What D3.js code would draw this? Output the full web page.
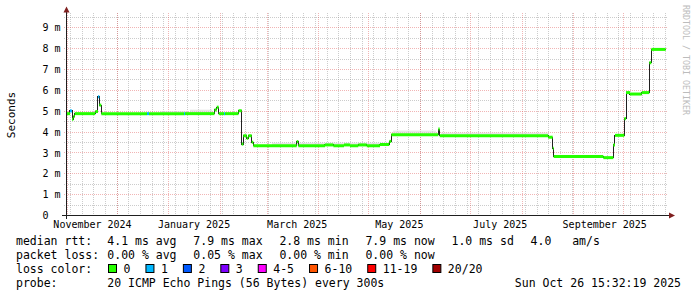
<!DOCTYPE html>
<html>
<head>
<script src="https://d3js.org/d3.v7.min.js"></script>
<style>
  body { margin: 0; background: #fff; }
  svg { display: block; background: #fff; }
  text { font-family: "DejaVu Sans Mono", monospace; fill: #000; white-space: pre; }
  .watermark { fill: #bcbcbc; }
</style>
</head>
<body>
<svg width="697" height="297"></svg>
<script>
// graph window: last 360 days
const graphStart = "2024-10-31T15:32:19Z";
const graphEnd = "2025-10-26T15:32:19Z";
const yMaxMs = 9.59;

// median rtt steps (ms) and lost pings (of 20); last entry only closes the final step
const stepTimes = [
  "2024-10-31T15:32", "2024-11-03T01:00", "2024-11-04T06:00", "2024-11-05T01:00", "2024-11-05T21:00",
  "2024-11-18T05:00", "2024-11-19T20:00", "2024-11-20T15:00", "2024-11-21T20:00", "2024-12-19T06:00",
  "2024-12-20T11:00", "2025-01-10T11:00", "2025-01-11T01:00", "2025-01-28T18:00", "2025-01-30T02:00",
  "2025-01-31T06:00", "2025-02-03T11:00", "2025-02-04T01:00", "2025-02-12T04:00", "2025-02-14T02:00",
  "2025-02-15T01:00", "2025-02-17T02:00", "2025-02-18T01:00", "2025-02-20T02:00", "2025-02-21T01:00",
  "2025-03-19T02:00", "2025-03-20T01:00", "2025-04-05T01:00", "2025-04-10T01:00", "2025-04-16T11:00",
  "2025-04-20T01:00", "2025-04-25T01:00", "2025-04-30T02:00", "2025-05-08T01:00", "2025-05-13T15:00",
  "2025-05-14T20:00", "2025-06-12T01:00", "2025-06-12T21:00", "2025-08-16T23:00", "2025-08-19T16:00",
  "2025-08-20T06:00", "2025-09-19T01:00", "2025-09-25T01:00", "2025-09-26T01:00", "2025-10-01T15:00",
  "2025-10-02T16:00", "2025-10-05T01:00", "2025-10-12T02:00", "2025-10-16T15:00", "2025-10-17T20:00",
  "2025-10-26T11:00"
];
const medianMs = [
  4.86, 4.99, 4.59, 4.72, 4.86,
  4.96, 5.67, 5.27, 4.86, 4.86,
  4.86, 4.86, 4.86, 5.04, 5.17,
  4.86, 4.86, 4.86, 5.00, 3.40,
  3.80, 3.68, 3.80, 3.49, 3.32,
  3.52, 3.32, 3.36, 3.32, 3.36,
  3.32, 3.36, 3.32, 3.38, 3.53,
  3.85, 4.12, 3.80, 3.73, 3.20,
  2.80, 2.75, 3.36, 3.82, 4.62,
  5.87, 5.80, 5.87, 7.30, 7.94,
  7.94
];
const lossCount = [
  0, 1, 0, 0, 0,
  0, 1, 0, 0, 1,
  0, 1, 0, 0, 0,
  0, 1, 0, 0, 0,
  0, 0, 0, 0, 0,
  0, 0, 0, 0, 0,
  0, 0, 0, 0, 0,
  0, 0, 0, 0, 0,
  0, 0, 0, 0, 0,
  0, 0, 0, 0, 0,
  0
];

// smoke (spread of the pings) above the median
const smokeFrom = ["2024-12-27T01:00", "2025-01-14T01:00", "2025-03-04T06:00", "2025-05-15T20:00", "2025-06-13T16:00"];
const smokeTo = ["2025-01-13T00:00", "2025-01-27T06:00", "2025-05-12T20:00", "2025-06-10T16:00", "2025-08-16T20:00"];
const smokeTopMs = [4.98, 5.05, 3.46, 4.05, 3.95];

// axis labels
const yTicks = [0, 1, 2, 3, 4, 5, 6, 7, 8, 9];
const monthLabels = ["November 2024", "January 2025", "March 2025", "May 2025", "July 2025", "September 2025"];
const monthLabelAt = ["2024-11-16T06:00", "2025-01-16T04:00", "2025-03-19T02:00", "2025-05-19T08:00", "2025-07-18T21:00", "2025-09-19T14:00"];

// legend
const statNames = ["avg", "max", "min", "now"];
const rttStats = [4.1, 7.9, 2.8, 7.9];
const rttSd = 1.0;
const rttAmps = 4.0;
const lossStats = [0.00, 0.05, 0.00, 0.00];
const lossBins = [0, 1, 2, 3, 5, 10, 19, 20];
const lossNames = ["0", "1", "2", "3", "4-5", "6-10", "11-19", "20/20"];
const lossColors = ["#26ff00", "#00b8ff", "#0059ff", "#7e00ff", "#ff00ff", "#ff5500", "#ff0000", "#a10000"];
const probeText = "20 ICMP Echo Pings (56 Bytes) every 300s";

const parse = s => new Date(s.length > 16 ? s : s + ":00Z");
const t0 = new Date(graphStart), t1 = new Date(graphEnd);

const x = d3.scaleUtc().domain([t0, t1]).range([66, 666]);
const y = d3.scaleLinear().domain([0, yMaxMs]).range([215, 15]);
const px = v => Math.round(v) + 0.5;
const lossColor = c => lossColors[lossBins.findIndex(b => c <= b)];

const svg = d3.select("svg");

// grid
const gridColor = "rgba(143,143,143,0.45)", mgridColor = "rgba(222,79,79,0.42)";
const grid = svg.append("g").attr("stroke-width", 1).attr("stroke-dasharray", "1,1");

grid.selectAll(".vmin")
  .data(d3.utcSunday.range(t0, t1))
  .join("line")
  .attr("x1", d => px(x(d))).attr("x2", d => px(x(d)))
  .attr("y1", 13).attr("y2", 217)
  .attr("stroke", gridColor);

grid.selectAll(".hmin")
  .data(d3.range(0.5, yMaxMs, 1))
  .join("line")
  .attr("x1", 64).attr("x2", 668)
  .attr("y1", d => px(y(d))).attr("y2", d => px(y(d)))
  .attr("stroke", gridColor);

grid.selectAll(".vmaj")
  .data(d3.utcMonth.range(t0, t1))
  .join("line")
  .attr("x1", d => px(x(d))).attr("x2", d => px(x(d)))
  .attr("y1", 13).attr("y2", 217)
  .attr("stroke", mgridColor);

grid.selectAll(".hmaj")
  .data(yTicks.filter(d => d > 0))
  .join("line")
  .attr("x1", 64).attr("x2", 668)
  .attr("y1", d => px(y(d))).attr("y2", d => px(y(d)))
  .attr("stroke", mgridColor);

// data
const steps = stepTimes.map((s, i) => ({t: parse(s), v: medianMs[i], loss: lossCount[i]}));
const stepDates = steps.map(d => d.t);

svg.append("g").selectAll("rect")
  .data(smokeFrom.map((s, i) => {
    const from = parse(s), to = parse(smokeTo[i]);
    const base = medianMs[d3.bisectRight(stepDates, from) - 1];
    return {from, to, top: smokeTopMs[i], base};
  }))
  .join("rect")
  .attr("x", d => x(d.from))
  .attr("width", d => x(d.to) - x(d.from))
  .attr("y", d => y(d.top))
  .attr("height", d => y(d.base) - y(d.top))
  .attr("fill", "#d6d6d6")
  .attr("opacity", 0.6);

svg.append("path")
  .datum(steps)
  .attr("fill", "none")
  .attr("stroke", "#202020")
  .attr("stroke-width", 1)
  .attr("shape-rendering", "crispEdges")
  .attr("d", d3.line().x(d => x(d.t)).y(d => y(d.v)).curve(d3.curveStepAfter));

svg.append("g").selectAll("path")
  .data(steps.slice(0, -1).map((d, i) => ({...d, next: steps[i + 1].t})))
  .join("path")
  .attr("fill", "none")
  .attr("stroke-width", 3)
  .attr("stroke", d => lossColor(d.loss))
  .attr("d", d => `M${x(d.t)},${y(d.v)}H${x(d.next)}`);

// axes
svg.append("line").attr("x1", 62).attr("x2", 670).attr("y1", 215.5).attr("y2", 215.5).attr("stroke", "#1f1f1f");
svg.append("line").attr("x1", 66.5).attr("x2", 66.5).attr("y1", 219).attr("y2", 12).attr("stroke", "#1f1f1f");
svg.append("path").attr("d", "M669,212.5L675,215.5L669,218.5Z").attr("fill", "#7f1f1f");
svg.append("path").attr("d", "M63.5,12.5L66.5,6.5L69.5,12.5Z").attr("fill", "#7f1f1f");

svg.append("g")
  .attr("transform", "translate(66,0)")
  .call(d3.axisLeft(y).tickValues(yTicks).tickSize(0).tickPadding(5.5)
    .tickFormat(d => d === 0 ? "0" : d + " m"))
  .call(g => g.select(".domain").remove())
  .call(g => g.selectAll("text").attr("dy", "0.36em").attr("dx", d => d === 0 ? "-1.2em" : null));

svg.append("g")
  .attr("transform", "translate(0,215)")
  .call(d3.axisBottom(x).tickValues(monthLabelAt.map(parse)).tickSize(0).tickPadding(6)
    .tickFormat((d, i) => monthLabels[i]))
  .call(g => g.select(".domain").remove());

svg.append("text")
  .attr("transform", "translate(15,115) rotate(-90)")
  .attr("text-anchor", "middle")
  .attr("font-size", 11)
  .text("Seconds");

svg.append("text")
  .attr("class", "watermark")
  .attr("transform", "translate(683,5) rotate(90)")
  .attr("font-size", 8.3)
  .text("RRDTOOL / TOBI OETIKER");

// legend
const legend = svg.append("g").attr("font-size", 11.5);
const rowY = [245, 259, 273.2, 286.8];
const valueX = 107.3, fieldGap = 16.8;

function row(i, label, fields) {
  legend.append("text").attr("x", 16).attr("y", rowY[i]).text(label);
  let cx = valueX;
  fields.forEach(f => {
    const t = legend.append("text").attr("x", cx).attr("y", rowY[i]).text(f);
    cx += t.node().getComputedTextLength() + fieldGap;
  });
}

row(0, "median rtt:", rttStats.map((v, i) => v.toFixed(1) + " ms " + statNames[i])
  .concat([rttSd.toFixed(1) + " ms sd", rttAmps.toFixed(1) + "   am/s"]));
row(1, "packet loss:", lossStats.map((v, i) => v.toFixed(2) + " % " + statNames[i]));
row(2, "loss color:", []);
row(3, "probe:", [probeText]);

let bx = 108.5;
lossNames.forEach((name, i) => {
  legend.append("rect")
    .attr("x", bx).attr("y", 264.5).attr("width", 8).attr("height", 8)
    .attr("fill", lossColors[i]).attr("stroke", "#000");
  const t = legend.append("text").attr("x", bx + 15).attr("y", rowY[2]).text(name);
  bx += 15 + t.node().getComputedTextLength() + 15.5;
});

legend.append("text")
  .attr("x", 681).attr("y", rowY[3])
  .attr("text-anchor", "end")
  .text(d3.utcFormat("%a %b %d %H:%M:%S %Y")(t1));
</script>
</body>
</html>
